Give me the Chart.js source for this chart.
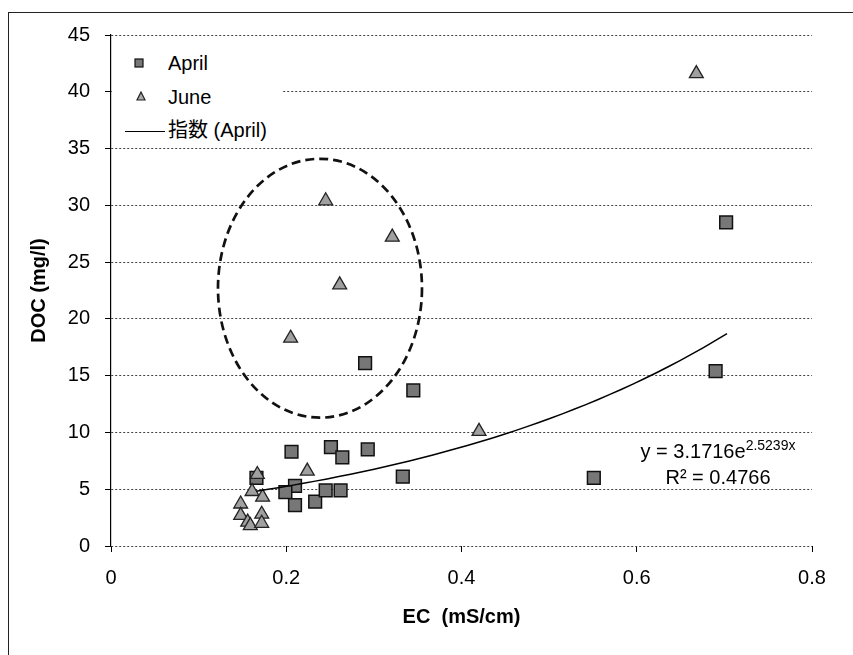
<!DOCTYPE html>
<html>
<head>
<meta charset="utf-8">
<script src="https://cdn.jsdelivr.net/npm/chart.js@4"></script>
<style>
  body { margin: 0; background: #fff; }
  #wrap { position: relative; width: 853px; height: 655px; font-family: 'Liberation Sans', Arial, 'Noto Sans CJK JP', sans-serif; color: #000; }
  #frame { position: absolute; left: 8px; top: 12px; width: 850px; height: 650px; border-left: 1.5px solid #222; border-top: 1.5px solid #222; }
  canvas { position: absolute; left: 0; top: 0; }
  #legend { position: absolute; left: 112px; top: 40px; width: 170px; height: 102px; background: #fff; }
  .lab { position: absolute; left: 56px; font-size: 20px; line-height: 24px; height: 24px; white-space: nowrap; }
  #eq { position: absolute; left: 618px; top: 439px; width: 200px; text-align: center; font-size: 20px; line-height: 24px; }
  #eq sup { font-size: 14px; vertical-align: 0; position: relative; top: -8px; }
</style>
</head>
<body>
<div id="wrap">
  <div id="frame"></div>
  <canvas id="docChart" width="853" height="655"></canvas>
  <div id="legend">
    <svg style="position:absolute;left:22px;top:18px" width="10" height="10"><rect x="1" y="1" width="8" height="8" fill="#777" stroke="#111" stroke-width="1.2"/></svg>
    <div class="lab" style="top:11px">April</div>
    <svg style="position:absolute;left:24px;top:51px" width="10" height="10"><polygon points="5,1 9,9 1,9" fill="#aaa" stroke="#222" stroke-width="1.2"/></svg>
    <div class="lab" style="top:45px">June</div>
    <div style="position:absolute;left:13px;top:91px;width:40px;height:0;border-top:1.5px solid #000"></div>
    <div class="lab" style="top:78px">指数 (April)</div>
  </div>
  <div id="eq">y = 3.1716e<sup>2.5239x</sup><br>R² = 0.4766</div>
</div>
<script>
// 4月の測定値 (EC, DOC)
const aprilEC  = [0.702, 0.690, 0.551, 0.345, 0.333, 0.290, 0.206, 0.251, 0.264, 0.293, 0.166, 0.210, 0.199, 0.210, 0.233, 0.245, 0.262];
const aprilDOC = [28.5, 15.4, 6.0, 13.7, 6.1, 16.1, 8.3, 8.7, 7.8, 8.5, 6.0, 5.3, 4.75, 3.6, 3.9, 4.9, 4.9];

// 6月の測定値 (EC, DOC)
const juneEC  = [0.668, 0.420, 0.245, 0.321, 0.261, 0.205, 0.224, 0.167, 0.161, 0.173, 0.148, 0.148, 0.156, 0.159, 0.172, 0.172];
const juneDOC = [41.6, 10.1, 30.4, 27.2, 23.0, 18.3, 6.6, 6.3, 4.8, 4.3, 3.7, 2.7, 2.1, 1.8, 2.8, 2.0];

// 目盛り
const xTicks = [0, 0.2, 0.4, 0.6, 0.8];
const yTicks = [0, 5, 10, 15, 20, 25, 30, 35, 40, 45];

// 指数近似 (April) の係数と範囲
const trendA = 3.1716;
const trendB = 2.5239;
const trendFrom = 0.166;
const trendTo = 0.703;

// 破線の楕円 (データ座標)
const ellipseEC = 0.2385;
const ellipseDOC = 22.7;
const ellipseHalfEC = 0.1164;
const ellipseHalfDOC = 11.4;

function toPoints(xs, ys) {
    return xs.map((x, i) => ({ x: x, y: ys[i] }));
}

function trendPoints() {
    const pts = [];
    const n = 40;
    for (let i = 0; i <= n; i++) {
        const x = trendFrom + (trendTo - trendFrom) * i / n;
        pts.push({ x: x, y: trendA * Math.exp(trendB * x) });
    }
    return pts;
}

// 楕円を描くプラグイン
const ellipsePlugin = {
    id: 'ellipse',
    afterDatasetsDraw(chart) {
        const { ctx, scales: { x, y } } = chart;
        const cx = x.getPixelForValue(ellipseEC);
        const cy = y.getPixelForValue(ellipseDOC);
        const rx = x.getPixelForValue(ellipseEC + ellipseHalfEC) - cx;
        const ry = cy - y.getPixelForValue(ellipseDOC + ellipseHalfDOC);
        ctx.save();
        ctx.setLineDash([9, 5]);
        ctx.lineWidth = 2.7;
        ctx.strokeStyle = '#111';
        ctx.beginPath();
        ctx.ellipse(cx, cy, rx, ry, 0, 0, Math.PI * 2);
        ctx.stroke();
        ctx.restore();
    }
};

function createChart() {
    Chart.defaults.font.family = "'Liberation Sans', Arial, sans-serif";
    Chart.defaults.color = '#000';
    const ctx = document.getElementById('docChart').getContext('2d');

    new Chart(ctx, {
        type: 'scatter',
        data: {
            datasets: [
                {
                    label: '指数 (April)',
                    data: trendPoints(),
                    showLine: true,
                    pointRadius: 0,
                    borderColor: '#000',
                    borderWidth: 1.5,
                    order: 0
                },
                {
                    label: 'June',
                    data: toPoints(juneEC, juneDOC),
                    pointStyle: 'triangle',
                    pointRadius: 8,
                    backgroundColor: '#a0a0a0',
                    borderColor: '#222',
                    borderWidth: 1.3,
                    order: 1
                },
                {
                    label: 'April',
                    data: toPoints(aprilEC, aprilDOC),
                    pointStyle: 'rect',
                    pointRadius: 9,
                    backgroundColor: '#777777',
                    borderColor: '#111',
                    borderWidth: 1.5,
                    order: 2
                }
            ]
        },
        options: {
            responsive: false,
            animation: false,
            layout: { padding: { top: 35, right: 41, bottom: 0, left: 0 } },
            plugins: {
                legend: { display: false },
                tooltip: { enabled: false }
            },
            scales: {
                x: {
                    type: 'linear',
                    min: 0,
                    max: 0.8,
                    afterBuildTicks: s => { s.ticks = xTicks.map(v => ({ value: v })); },
                    afterFit: s => { s.height = 109; },
                    grid: { drawOnChartArea: false, drawTicks: true, tickLength: 6, tickColor: '#000', tickWidth: 1 },
                    border: { display: false },
                    ticks: { font: { size: 20 }, padding: 14, maxRotation: 0 },
                    title: {
                        display: true,
                        text: 'EC  (mS/cm)',
                        font: { size: 20, weight: 'bold' },
                        padding: { top: 0, bottom: 26 }
                    }
                },
                y: {
                    type: 'linear',
                    min: 0,
                    max: 45,
                    afterBuildTicks: s => { s.ticks = yTicks.map(v => ({ value: v })); },
                    afterFit: s => { s.width = 111; },
                    grid: { color: '#444', lineWidth: 1, drawTicks: true, tickLength: 6, tickColor: '#000', tickWidth: 1, tickBorderDash: [] },
                    border: { display: true, color: '#000', width: 1.2, dash: [2, 2] },
                    ticks: { font: { size: 20 }, padding: 15 },
                    title: {
                        display: true,
                        text: 'DOC (mg/l)',
                        font: { size: 20, weight: 'bold' },
                        padding: { top: 27, bottom: 0 }
                    }
                }
            }
        },
        plugins: [ellipsePlugin]
    });
}

window.onload = function() {
    createChart();
};
</script>
</body>
</html>
